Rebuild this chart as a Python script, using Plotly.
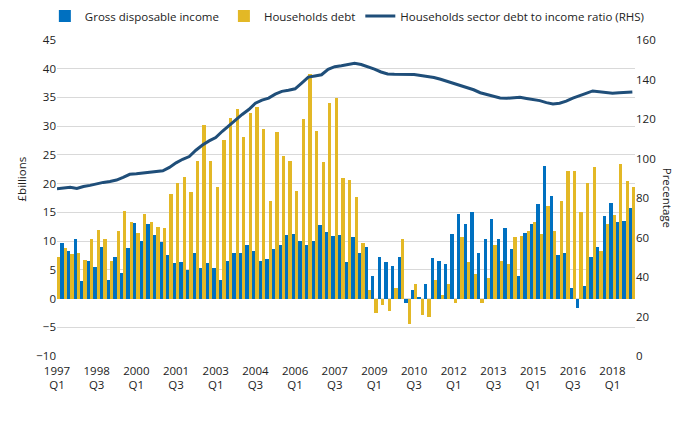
import plotly.graph_objects as go

# quarters 1997 Q1 .. 2018 Q4
quarters = [str(y) + " Q" + str(q) for y in range(1997, 2019) for q in range(1, 5)]

# £ billions (first blue bar sits outside the plot area)
gdi = [9.0, 9.65, 8.25, 10.35, 3.0, 6.5, 5.45, 8.95, 3.2, 7.15, 4.4, 8.8,
       13.15, 10.0, 12.95, 11.05, 9.8, 7.55, 6.15, 6.35, 4.95, 7.9, 5.25, 6.15,
       5.25, 3.15, 6.45, 7.85, 8.0, 9.4, 8.35, 6.45, 6.8, 8.55, 9.25, 11.0,
       11.15, 9.95, 9.4, 9.95, 12.75, 11.5, 10.8, 11.0, 6.3, 10.65, 8.0, 9.05,
       3.85, 7.3, 6.3, 5.75, 7.3, -0.7, 1.55, 0.1, 2.45, 7.0, 6.45, 5.95,
       11.15, 14.65, 12.9, 15.0, 7.85, 10.3, 13.8, 10.45, 12.2, 8.7, 3.85, 11.35,
       12.9, 16.4, 23.0, 17.8, 7.65, 7.85, 1.9, -1.7, 2.25, 7.3, 9.05, 14.3,
       16.55, 13.25, 13.45, 15.7]

debt = [7.15, 8.8, 7.75, 7.9, 6.7, 10.35, 12.0, 10.35, 6.5, 11.75, 15.2, 13.4,
        11.4, 14.7, 13.4, 12.45, 12.25, 18.2, 20.1, 21.15, 18.55, 23.9, 30.2, 23.9,
        19.35, 27.55, 31.4, 32.95, 28.1, 32.3, 33.3, 29.5, 16.9, 28.95, 24.75, 23.9,
        18.65, 31.2, 39.05, 29.1, 23.7, 34.0, 34.9, 20.95, 20.6, 17.6, 9.75, 1.55,
        -2.6, -1.05, -2.1, 1.75, 10.45, -4.35, 2.6, -2.95, -3.15, 3.3, 0.7, 2.6,
        -0.7, 10.65, 6.3, 4.2, -0.85, 3.65, 9.25, 6.45, 6.1, 10.65, 10.8, 11.7,
        13.25, 11.15, 16.05, 11.7, 16.9, 22.15, 22.15, 15.0, 20.05, 22.85, 8.2, 12.9,
        14.5, 23.35, 20.4, 19.35]

# percentage (RHS)
ratio = [84.7, 85.2, 85.4, 84.8, 85.8, 86.4, 87.2, 87.9, 88.4, 89.1, 90.5, 92.0,
         92.3, 92.6, 93.0, 93.2, 93.8, 95.5, 97.8, 99.6, 101.0, 104.2, 106.8, 108.9,
         110.6, 113.8, 116.8, 119.5, 122.3, 124.8, 128.0, 129.6, 130.6, 132.6, 134.0, 134.6,
         135.3, 138.2, 141.2, 141.8, 142.4, 145.2, 146.5, 147.0, 147.6, 148.2, 147.6, 146.6,
         145.3, 143.8, 142.8, 142.6, 142.6, 142.6, 142.5, 142.0, 141.5, 141.0, 140.1, 139.1,
         138.0, 137.1, 136.0, 134.8, 133.3, 132.5, 131.6, 130.6, 130.5, 130.8, 131.0, 130.4,
         129.9, 129.3, 128.3, 127.6, 128.0, 129.0, 130.6, 132.0, 133.0, 134.2, 133.8, 133.3,
         133.0, 133.3, 133.4, 133.7]

x = list(range(len(quarters)))
tick_idx = x[::6]
tick_text = [quarters[i].replace(" ", "<br>") for i in tick_idx]

font = "Open Sans"

fig = go.Figure()
fig.add_trace(go.Bar(x=x, y=gdi, name="Gross disposable income", marker_color="#0070C0",
                     marker_line_width=0))
fig.add_trace(go.Bar(x=x, y=debt, name="Households debt", marker_color="#E3B826",
                     marker_line_width=0))
fig.add_trace(go.Scatter(x=x, y=ratio, yaxis="y2", mode="lines",
                         name="Households sector debt to income ratio (RHS)",
                         line=dict(color="#1F4E79", width=3)))

fig.update_layout(
    width=695, height=423,
    margin=dict(l=57, r=60, t=40, b=67, autoexpand=False),
    plot_bgcolor="white", paper_bgcolor="white",
    font=dict(family=font, size=11.5, color="#222222"),
    barmode="group", bargap=0, bargroupgap=0,
    showlegend=True,
    legend=dict(orientation="h", x=-0.021, y=1.03, yanchor="bottom", xanchor="left",
                font=dict(size=11.5), itemwidth=30, traceorder="normal"),
    xaxis=dict(range=[0, 87.4], tickmode="array", tickvals=tick_idx, ticktext=tick_text,
               showgrid=False, zeroline=False, showline=False, ticks="",
               ticklabelstandoff=6, tickfont=dict(size=11.5)),
    yaxis=dict(range=[-10, 45], dtick=5, showgrid=True, gridcolor="#D9D9D9", gridwidth=1,
               zeroline=False, showline=False, ticks="", tickfont=dict(size=11.5)),
    yaxis2=dict(range=[0, 160], dtick=20, overlaying="y", side="right", showgrid=False,
                zeroline=False, showline=False, ticks="", tickfont=dict(size=11.5)),
    annotations=[
        dict(text="£billions", xref="paper", yref="paper", x=-0.078, y=0.56,
             textangle=-90, showarrow=False, font=dict(size=11.5)),
        dict(text="Precentage", xref="paper", yref="paper", x=1.074, y=0.5,
             textangle=90, showarrow=False, font=dict(size=11.5)),
    ],
)

fig.write_html("out.html", config={"displayModeBar": False},
               post_script="document.body.style.margin='0';")
